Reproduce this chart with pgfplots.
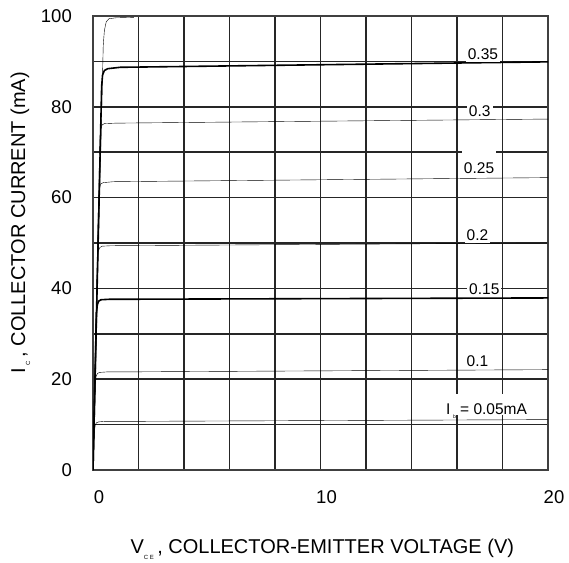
\documentclass[border=0pt]{standalone}
\usepackage{fontspec}
\setmainfont{Liberation Sans}
\usepackage{pgfplots}
\pgfplotsset{compat=1.18}
\begin{document}
\begin{tikzpicture}
\begin{axis}[name=ax, width=455pt, height=454pt, scale only axis,
 xmin=0, xmax=20, ymin=0, ymax=100,
 xtick={0,10,20}, minor xtick={2,4,...,18},
 ytick={0,20,...,100}, minor ytick={10,30,...,90},
 grid=both,
 major grid style={black!85, line width=1.6pt},
 minor grid style={black!85, line width=1.6pt},
 major tick length=0pt, minor tick length=0pt,
 axis line style={black!75, line width=1.6pt},
 /pgf/number format/assume math mode=true,
 tick label style={font=\fontsize{18.5}{22}\selectfont, inner sep=0pt},
 xticklabel style={yshift=-20pt, xshift=6pt},
 yticklabel style={xshift=-21pt},
 label style={font=\fontsize{20}{24}\selectfont},
 xlabel={V\raisebox{-6pt}{\fontsize{6}{6}\selectfont C E}\,, COLLECTOR-EMITTER VOLTAGE (V)},
 ylabel={I\,\raisebox{-5pt}{\fontsize{6}{6}\selectfont C}\,, COLLECTOR CURRENT (mA)},
 xlabel style={at={(axis description cs:0.504,-0.183)}, anchor=base},
 ylabel style={at={(axis description cs:-0.149,0.544)}, anchor=base},
 cycle list={{black, solid, line width=1.6pt, mark=none}},
]
% Ib = 0.05 mA
\addplot coordinates {(0,0) (0.06,8.5) (0.1,9.9) (0.15,10.4) (0.25,10.6) (0.5,10.7) (1,10.7) (20,11.1)};
% 0.1
\addplot coordinates {(0,0) (0.1,19) (0.14,20.7) (0.2,21.3) (0.3,21.5) (0.6,21.6) (1,21.6) (20,22.1)};
% 0.15
\addplot coordinates {(0,0) (0.15,34.5) (0.19,36.4) (0.25,37.2) (0.35,37.5) (0.7,37.6) (20,37.9)};
% 0.2
\addplot coordinates {(0,0) (0.2,46.5) (0.24,48.3) (0.3,49) (0.4,49.3) (0.8,49.4) (20,50)};
% 0.25
\addplot coordinates {(0,0) (0.24,59.5) (0.28,62) (0.34,63) (0.45,63.3) (0.9,63.5) (20,64.4)};
% 0.3
\addplot coordinates {(0,0) (0.3,72.5) (0.34,75) (0.4,76) (0.5,76.3) (1,76.4) (20,77.3)};
% 0.35
\addplot coordinates {(0,0) (0.38,84.5) (0.42,87) (0.5,88) (0.65,88.4) (1.2,88.7) (20,89.9)};
% top
\addplot coordinates {(0,0) (0.45,93.5) (0.5,96.8) (0.58,98.7) (0.7,99.4) (1,99.6) (1.8,99.7)};

\tikzset{lab/.style={fill=white, inner xsep=2pt, inner ysep=2.5pt, font=\fontsize{15.5}{18}\selectfont}}
\node[lab] at (axis cs:17.14,91.6) {0.35};
\node[lab] at (axis cs:17.0,79.1) {0.3};
\node[lab, anchor=base, text height=20pt] at (axis cs:16.97,65.3) {0.25};
\node[lab] at (axis cs:16.9,51.8) {0.2};
\node[lab] at (axis cs:17.2,39.9) {0.15};
\node[lab] at (axis cs:16.9,24.0) {0.1};
\node[lab, anchor=base, text height=19pt, text depth=0pt, inner ysep=1pt] at (axis cs:17.3,12.3) {I\,\raisebox{-4pt}{\fontsize{5}{5}\selectfont b} = 0.05mA};
\end{axis}
\path (ax.south west) ++(-93pt,-89pt) rectangle ++(569pt,559pt);
\end{tikzpicture}
\end{document}
